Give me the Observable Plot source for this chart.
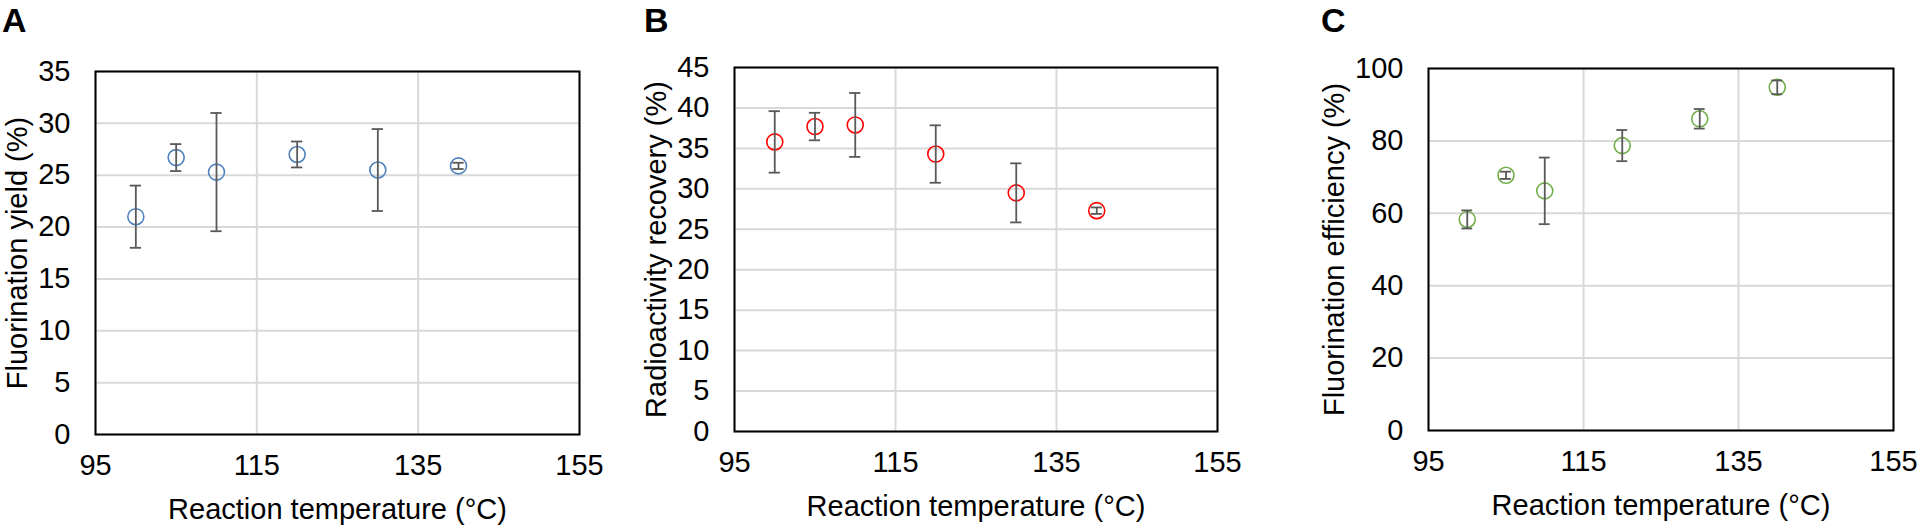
<!DOCTYPE html>
<html>
<head>
<meta charset="utf-8">
<script src="https://cdn.jsdelivr.net/npm/d3@7"></script>
<script src="https://cdn.jsdelivr.net/npm/@observablehq/plot@0.6"></script>
<style>
  html, body { margin: 0; padding: 0; background: #fff; }
  #fig { position: relative; width: 1920px; height: 525px; overflow: hidden; font-family: "Liberation Sans", Arial, sans-serif; }
  .panel { position: absolute; top: 0; }
  .letter { position: absolute; top: 1px; font-weight: bold; font-size: 34px; line-height: 38px; color: #000; }
</style>
</head>
<body>
<div id="fig"></div>
<script>
// ---- data ----
const temps = [100, 105, 110, 120, 130, 140];

const yieldVals = [21.0, 26.7, 25.3, 27.0, 25.5, 25.9];
const yieldErr  = [3.0, 1.3, 5.7, 1.25, 3.95, 0.3];

const recoveryVals = [35.8, 37.7, 37.9, 34.3, 29.5, 27.3];
const recoveryErr  = [3.8, 1.7, 3.95, 3.55, 3.65, 0.4];

const efficiencyVals = [58.3, 70.5, 66.2, 78.7, 86.1, 94.8];
const efficiencyErr  = [2.5, 1.0, 9.2, 4.3, 2.7, 1.9];

const xTicks = [95, 115, 135, 155];
const yTicksA = [0, 5, 10, 15, 20, 25, 30, 35];
const yTicksB = [0, 5, 10, 15, 20, 25, 30, 35, 40, 45];
const yTicksC = [0, 20, 40, 60, 80, 100];

const xTitle = "Reaction temperature (°C)";
const panels = [
  {letter: "A", vals: yieldVals, err: yieldErr, yTitle: "Fluorination yield (%)", yDomain: [0, 35], yTicks: yTicksA, color: "#4f81bd",
   left: 0, letterX: 2, mL: 95, mR: 61, mT: 71, mB: 91, titleX: 17},
  {letter: "B", vals: recoveryVals, err: recoveryErr, yTitle: "Radioactivity recovery (%)", yDomain: [0, 45], yTicks: yTicksB, color: "#ff0000",
   left: 640, letterX: 644, mL: 94, mR: 63, mT: 67, mB: 94, titleX: 656},
  {letter: "C", vals: efficiencyVals, err: efficiencyErr, yTitle: "Fluorination efficiency (%)", yDomain: [0, 100], yTicks: yTicksC, color: "#70ad47",
   left: 1280, letterX: 1321, mL: 148, mR: 27, mT: 68, mB: 95, titleX: 1334}
];

const fig = document.getElementById("fig");
const capHalf = 0.7; // cap half-width in °C
const W = 640, H = 525;

for (const p of panels) {
  const data = temps.map((t, i) => ({t, v: p.vals[i], e: p.err[i]}));
  const chart = Plot.plot({
    width: W,
    height: H,
    marginLeft: p.mL,
    marginRight: p.mR,
    marginTop: p.mT,
    marginBottom: p.mB,
    style: {fontFamily: "'Liberation Sans', Arial, sans-serif", fontSize: "29px", color: "#000", background: "#fff", overflow: "visible"},
    x: {domain: [95, 155]},
    y: {domain: p.yDomain},
    marks: [
      Plot.gridX(xTicks, {stroke: "#d9d9d9", strokeOpacity: 1, strokeWidth: 2}),
      Plot.gridY(p.yTicks, {stroke: "#d9d9d9", strokeOpacity: 1, strokeWidth: 2}),
      Plot.frame({stroke: "#000", strokeWidth: 2}),
      Plot.axisX(xTicks, {tickSize: 0, tickPadding: 20, fontSize: 29, fill: "#000", label: null}),
      Plot.axisY(p.yTicks, {tickSize: 0, tickPadding: 25, fontSize: 29, fill: "#000", label: null}),
      Plot.dot(data, {x: "t", y: "v", r: 8, stroke: p.color, strokeWidth: 1.6, fill: "none"}),
      Plot.ruleX(data, {x: "t", y1: d => d.v - d.e, y2: d => d.v + d.e, stroke: "#595959", strokeWidth: 1.8}),
      Plot.ruleY(data, {y: d => d.v + d.e, x1: d => d.t - capHalf, x2: d => d.t + capHalf, stroke: "#595959", strokeWidth: 1.8}),
      Plot.ruleY(data, {y: d => d.v - d.e, x1: d => d.t - capHalf, x2: d => d.t + capHalf, stroke: "#595959", strokeWidth: 1.8}),
      Plot.text([xTitle], {frameAnchor: "bottom", textAnchor: "middle", lineAnchor: "middle", dy: 75, text: d => d, fontSize: 29, fill: "#000"}),
      Plot.text([p.yTitle], {frameAnchor: "left", textAnchor: "middle", lineAnchor: "middle", rotate: -90, dx: (p.titleX - p.left) - p.mL, text: d => d, fontSize: 29, fill: "#000"})
    ]
  });
  const wrap = document.createElement("div");
  wrap.className = "panel";
  wrap.style.left = p.left + "px";
  wrap.appendChild(chart);
  fig.appendChild(wrap);

  const L = document.createElement("div");
  L.className = "letter";
  L.textContent = p.letter;
  L.style.left = p.letterX + "px";
  fig.appendChild(L);
}
</script>
</body>
</html>
